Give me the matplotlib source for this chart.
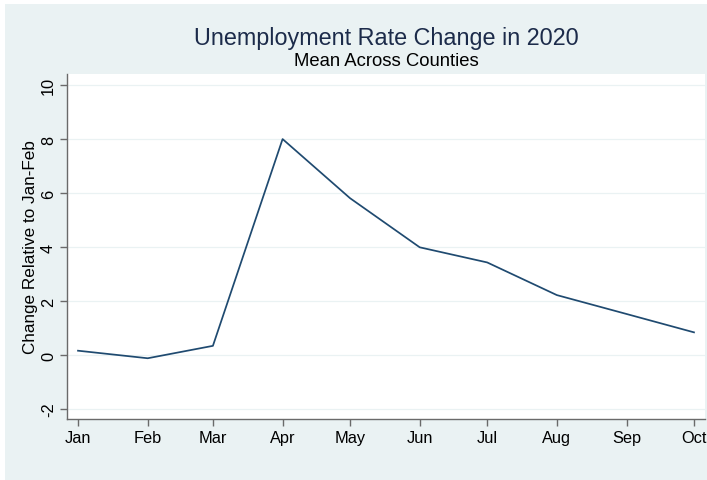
import matplotlib
matplotlib.use("Agg")
import matplotlib.pyplot as plt
import matplotlib.dates as mdates
from matplotlib.patches import Rectangle
import pandas as pd

months = ["2020-01-01", "2020-02-01", "2020-03-01", "2020-04-01", "2020-05-01",
          "2020-06-01", "2020-07-01", "2020-08-01", "2020-09-01", "2020-10-01"]
change = [0.16, -0.12, 0.34, 8.0, 5.81, 3.99, 3.43, 2.22, 1.52, 0.84]
yticks = [-2, 0, 2, 4, 6, 8, 10]

title = "Unemployment Rate Change in 2020"
subtitle = "Mean Across Counties"
ylabel = "Change Relative to Jan-Feb"

navy = "#1f4a70"
bg = "#eaf2f3"
axis_grey = "#6a6a6a"

plt.rcParams["font.family"] = ["Liberation Sans", "DejaVu Sans"]

dates = pd.to_datetime(months)

fig = plt.figure(figsize=(7.07, 4.81), dpi=100, facecolor="white")
# graph region (light blue), leaving a thin white margin at the top and left
fig.patches.append(Rectangle((5 / 707, 0), 1, 1 - 5 / 481, transform=fig.transFigure,
                             facecolor=bg, edgecolor="none", zorder=-10))

ax = fig.add_axes([67 / 707, 1 - 420 / 481, (705 - 67) / 707, (420 - 75) / 481])
ax.set_facecolor("white")

ax.plot(dates, change, color=navy, lw=1.25, zorder=3)

ax.set_xlim(pd.Timestamp("2020-01-01") - pd.Timedelta(days=4.9),
            pd.Timestamp("2020-10-01") + pd.Timedelta(days=4.9))
ax.set_ylim(-2.37, 10.41)

ax.xaxis.set_major_locator(mdates.MonthLocator())
ax.xaxis.set_major_formatter(mdates.DateFormatter("%b"))
ax.set_yticks(yticks)
ax.set_yticklabels([str(t) for t in yticks], rotation=90, va="center")

ax.grid(axis="y", color=bg, lw=0.9, zorder=0)
ax.grid(axis="x", visible=False)

for side in ["top", "right"]:
    ax.spines[side].set_visible(False)
for side in ["left", "bottom"]:
    ax.spines[side].set_color(axis_grey)
    ax.spines[side].set_linewidth(1.0)

ax.tick_params(axis="both", direction="out", length=5, width=1.0, color=axis_grey,
               labelsize=11.8, labelcolor="black", pad=3)

ax.set_ylabel(ylabel, fontsize=12.3, color="black")
ax.yaxis.set_label_coords(-0.045, 0.5)

fig.text(386 / 707, 1 - 39 / 481, title, ha="center", va="center",
         fontsize=16.8, color="#1c2b4a")
fig.text(386 / 707, 1 - 62 / 481, subtitle, ha="center", va="center",
         fontsize=13.3, color="black")

fig.savefig("out.png", dpi=100, facecolor=fig.get_facecolor())
